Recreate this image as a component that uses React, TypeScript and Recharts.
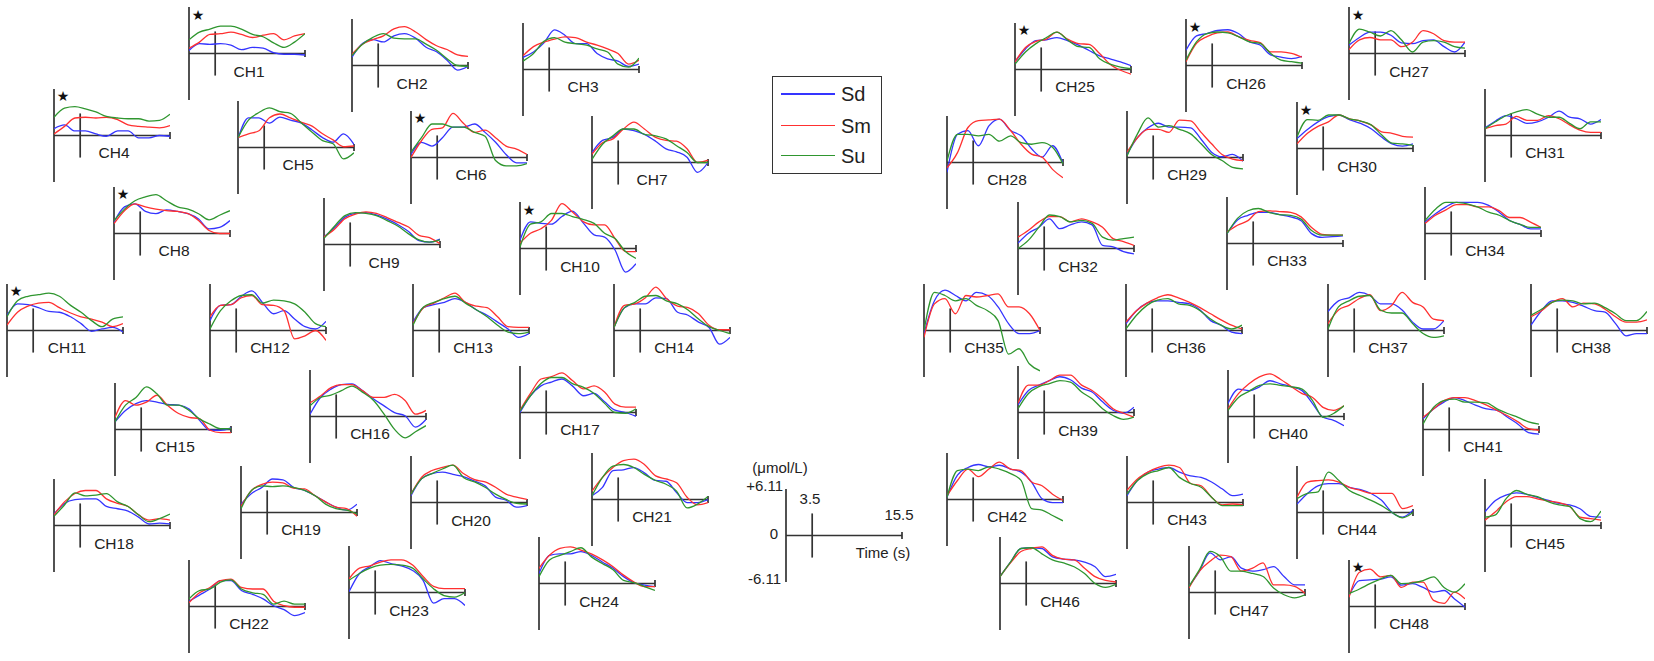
import { LineChart, Line, XAxis, YAxis, ReferenceLine } from "recharts";

// sample times (s), 0 .. 15.5
const TIME = [0, 1.4, 2.8, 4.2, 5.6, 7.0, 8.5, 9.9, 11.3, 12.7, 14.1, 15.5];
const Y_MAX = 6.11;
const ONSET = 3.5;
const T_END = 15.5;

const CHANNELS = [
  "CH1", "CH2", "CH3", "CH4", "CH5", "CH6", "CH7", "CH8", "CH9", "CH10", "CH11", "CH12",
  "CH13", "CH14", "CH15", "CH16", "CH17", "CH18", "CH19", "CH20", "CH21", "CH22", "CH23", "CH24",
  "CH25", "CH26", "CH27", "CH28", "CH29", "CH30", "CH31", "CH32", "CH33", "CH34", "CH35", "CH36",
  "CH37", "CH38", "CH39", "CH40", "CH41", "CH42", "CH43", "CH44", "CH45", "CH46", "CH47", "CH48",
];

const STARRED = ["CH1", "CH4", "CH6", "CH8", "CH10", "CH11", "CH25", "CH26", "CH27", "CH30", "CH48"];

// Sd (blue), μmol/L, one row per channel
const SD = [
  [0.4, 1.3, 1.2, 1.3, 1.1, 0.5, 0.8, 0.7, 0.1, -0.1, -0.1, -0.2],
  [1.1, 2.9, 3.4, 3.1, 3.9, 4.2, 3.6, 2.4, 1.8, 0.7, -0.6, -0.1],
  [1.6, 2.3, 3.5, 5.2, 4.5, 3.4, 3.4, 2.1, 1.4, 1.1, 0.4, 0.7],
  [0.9, 1.4, 0.6, 0.6, 0.2, -0.1, 0.6, 0.6, -0.3, -0.3, 0, -0.1],
  [1.2, 3.9, 3.9, 3.2, 4.0, 3.6, 3.2, 2.3, 1.3, 0.7, 1.8, 0.4],
  [0.4, 2.0, 1.5, 2.6, 4.0, 4.0, 4.4, 3.3, 2.0, 0.4, -0.7, -0.7],
  [1.3, 2.9, 3.3, 4.4, 4.2, 3.7, 2.8, 1.8, 1.4, 0.7, -1.3, 0],
  [1.5, 3.5, 3.9, 2.9, 2.6, 3.1, 2.9, 2.6, 1.9, 0.6, 0.8, 1.7],
  [1.0, 2.2, 3.6, 4.1, 4.2, 3.9, 3.3, 2.6, 1.7, 0.5, 0.3, 0.7],
  [1.1, 3.5, 3.3, 3.2, 4.2, 4.9, 3.3, 1.8, 1.5, -0.2, -3.1, -2.0],
  [2.0, 3.5, 3.4, 3.0, 2.5, 2.4, 1.8, 0.9, -0.1, 0.2, 0.4, -0.2],
  [1.3, 3.3, 3.4, 4.5, 5.2, 3.7, 2.2, 2.6, 1.5, 0.5, 0.2, 1.2],
  [1.1, 3.0, 3.4, 3.7, 4.2, 3.7, 2.7, 2.0, 1.1, 0.2, -0.9, -0.4],
  [0.4, 3.0, 3.5, 3.5, 4.3, 4.2, 2.4, 2.0, 1.1, 0.4, -1.8, -0.9],
  [1.0, 2.5, 3.4, 3.8, 3.6, 3.3, 3.2, 2.7, 1.2, -0.1, -0.1, 0.2],
  [0.3, 2.5, 3.6, 4.2, 4.3, 3.4, 2.3, 1.4, 0.5, 0.1, -1.4, -0.4],
  [0, 2.2, 3.5, 4.0, 4.4, 3.5, 2.2, 2.5, 1.4, 0.3, 0, -0.5],
  [1.5, 2.9, 3.4, 3.5, 3.5, 2.5, 2.2, 1.9, 1.1, 0.2, 0.3, 0.2],
  [1.1, 2.5, 3.3, 4.4, 4.3, 3.3, 2.9, 2.2, 1.4, 0.7, 0.3, 1.1],
  [0.9, 3.1, 3.8, 4.0, 3.7, 3.4, 2.8, 2.2, 0.7, 0.3, -0.6, -0.4],
  [0.5, 1.6, 3.8, 3.9, 4.2, 3.5, 2.5, 2.4, 0.9, -0.4, -0.4, 0],
  [0.7, 1.5, 2.3, 3.4, 3.4, 2.1, 1.6, 1.0, 0.1, -0.4, -1.2, -0.8],
  [0.1, 2.5, 3.4, 4.2, 3.8, 3.5, 2.9, 1.6, -1.4, -0.8, -0.8, -1.7],
  [1.3, 3.7, 3.9, 3.9, 4.2, 3.7, 2.8, 2.0, 0.9, 0.1, -0.2, -0.4],
  [1.0, 2.7, 3.8, 3.9, 4.2, 3.8, 3.2, 2.5, 1.8, 1.4, 1.0, 0.5],
  [2.0, 3.9, 4.2, 4.6, 4.7, 4.2, 3.1, 2.7, 1.4, 1.1, 0.9, 1.2],
  [1.1, 2.1, 2.8, 2.8, 2.4, 1.4, 1.3, 1.7, 1.8, 0.9, 0.2, 1.5],
  [-1.3, 3.7, 4.2, 2.2, 4.8, 5.7, 4.2, 3.5, 1.8, 0.7, 2.2, -0.1],
  [0.4, 2.6, 3.9, 4.5, 4.0, 4.0, 3.9, 2.4, 0.7, 0.1, 0.4, -0.5],
  [1.3, 2.5, 3.5, 4.2, 4.4, 3.8, 3.3, 2.6, 1.5, 0.6, 0.3, 0.6],
  [1.0, 1.9, 2.6, 2.2, 1.6, 1.8, 2.4, 3.2, 2.4, 2.2, 1.5, 2.1],
  [0.7, 2.0, 2.8, 3.9, 2.6, 3.1, 3.5, 3.1, 0.4, 0.2, -0.4, -0.7],
  [1.3, 3.1, 3.7, 4.1, 4.1, 3.8, 3.5, 3.0, 1.3, 0.8, 0.9, 1.0],
  [1.5, 2.6, 3.5, 4.1, 4.1, 4.1, 3.7, 2.8, 1.7, 1.2, 0.6, 0.6],
  [-0.4, 3.9, 5.3, 4.6, 3.9, 5.0, 4.6, 3.1, 0.9, -0.4, -0.4, 0],
  [0.9, 2.6, 3.6, 3.9, 3.9, 3.7, 3.5, 2.7, 1.3, 0.7, -0.2, -0.4],
  [2.5, 3.9, 4.3, 5.0, 4.6, 3.5, 3.5, 2.7, 1.1, 0.2, 0.2, 1.3],
  [0.7, 2.6, 3.9, 3.9, 3.7, 3.2, 2.6, 2.4, 0.9, -0.7, -0.4, -0.4],
  [1.0, 2.9, 3.6, 4.2, 4.7, 4.3, 3.2, 2.7, 1.4, 0.3, -0.1, 0.7],
  [1.7, 3.6, 3.4, 3.9, 4.7, 4.3, 3.9, 3.4, 1.7, -0.1, -0.5, -1.2],
  [1.4, 2.7, 3.6, 4.2, 3.8, 3.2, 2.7, 2.5, 1.6, 0.7, -0.4, -0.6],
  [0.3, 3.2, 4.2, 4.6, 4.3, 4.5, 4.0, 3.6, 2.3, 0.1, -0.4, -0.4],
  [0.9, 2.9, 4.0, 4.4, 4.6, 4.0, 3.5, 3.3, 2.7, 1.8, 0.9, 1.1],
  [1.1, 2.5, 3.5, 3.8, 3.8, 3.3, 3.0, 2.5, 1.6, 0, -0.6, 0.3],
  [1.8, 3.3, 4.0, 4.3, 4.1, 3.7, 3.3, 2.9, 2.7, 2.2, 1.2, 1.1],
  [0.9, 2.8, 4.6, 4.7, 4.6, 3.5, 3.2, 3.1, 2.8, 2.2, 0.9, 1.2],
  [0.8, 2.8, 5.2, 4.3, 4.7, 3.2, 2.8, 3.0, 3.4, 2.1, 1.0, 1.0],
  [1.4, 3.4, 3.5, 3.6, 3.9, 2.8, 3.0, 2.5, 1.9, 2.1, 1.0, -0.1],
];

// Sm (red)
const SM = [
  [0.7, 1.5, 2.5, 2.6, 2.8, 2.5, 2.1, 2.4, 2.6, 1.8, 2.3, 2.6],
  [1.5, 2.8, 3.4, 3.9, 4.8, 5.1, 4.4, 3.4, 2.6, 2.1, 1.4, 1.2],
  [1.8, 3.0, 3.6, 4.0, 4.3, 4.2, 3.6, 3.2, 2.7, 2.1, 0.7, 1.2],
  [0.2, 1.2, 2.3, 2.4, 2.3, 2.4, 2.1, 1.4, 1.2, 1.1, 1.0, 1.3],
  [1.3, 1.8, 2.2, 3.9, 4.4, 3.9, 3.3, 2.8, 1.8, 1.0, 0.1, 0.2],
  [0, 2.2, 3.7, 3.9, 5.8, 4.5, 3.3, 3.6, 2.6, 1.5, 1.1, 0.4],
  [1.1, 2.6, 3.1, 4.4, 5.3, 4.4, 3.3, 2.9, 2.8, 1.8, 0, 0.3],
  [1.3, 3.0, 3.9, 3.5, 3.2, 3.0, 2.9, 2.6, 1.7, 0.4, 0, 0],
  [1.0, 2.0, 3.4, 4.0, 4.3, 4.1, 3.5, 2.9, 2.3, 1.2, 0.9, 0.1],
  [0.7, 2.0, 2.6, 3.7, 5.9, 4.8, 3.5, 3.1, 3.1, 1.3, -0.4, -0.4],
  [0.7, 2.4, 3.2, 3.6, 3.7, 3.0, 2.3, 1.8, 1.5, 1.1, 0.5, 0.9],
  [1.8, 3.3, 3.4, 4.3, 4.6, 3.4, 3.3, 2.6, -1.1, -0.7, 0, -1.3],
  [0.9, 3.0, 3.6, 4.3, 4.9, 3.7, 3.2, 3.0, 1.8, 0.5, 0.4, 0.4],
  [0.4, 3.3, 3.5, 4.3, 5.7, 4.2, 3.2, 3.0, 2.2, 0.7, 0.1, 0.1],
  [1.6, 3.8, 3.2, 3.6, 4.5, 3.2, 2.1, 1.6, 1.4, -0.1, -0.4, -0.4],
  [1.8, 2.7, 3.8, 4.2, 4.2, 3.4, 2.5, 2.5, 2.9, 2.1, 0.3, 0.8],
  [0.3, 2.5, 4.4, 4.7, 5.2, 4.2, 3.1, 3.5, 2.7, 1.1, 0.7, 0.7],
  [1.4, 3.1, 4.2, 4.6, 4.6, 3.5, 2.9, 2.5, 1.4, 0.7, 0.9, 0.7],
  [0.8, 2.9, 3.7, 4.0, 3.9, 3.2, 3.1, 2.2, 1.4, 0.7, 0.5, -0.5],
  [1.1, 3.3, 4.2, 4.6, 4.9, 3.8, 3.0, 2.7, 2.0, 1.1, 0.7, 0.4],
  [1.1, 2.9, 4.2, 5.1, 5.3, 4.6, 3.1, 2.7, 2.2, 0.3, -0.7, -0.4],
  [0.5, 1.8, 2.5, 3.4, 3.6, 2.5, 2.3, 2.3, 0.7, 0.1, -0.1, -0.1],
  [1.8, 3.2, 3.5, 4.0, 4.3, 4.3, 3.6, 2.1, 0.8, 0.5, 0.5, 0.5],
  [2.0, 3.7, 4.6, 4.8, 4.4, 3.9, 3.1, 2.2, 1.1, 0.2, -0.4, -0.4],
  [1.0, 2.9, 3.7, 4.0, 4.9, 4.0, 3.4, 3.3, 2.1, 0.7, -0.1, -0.6],
  [0.5, 2.9, 3.8, 4.3, 4.4, 3.8, 3.3, 3.0, 1.8, 1.8, 1.6, 1.1],
  [0.5, 1.8, 2.1, 1.8, 1.8, 0.9, 1.5, 3.0, 2.6, 1.7, 1.5, 1.5],
  [-0.7, 1.3, 4.6, 5.5, 5.6, 5.7, 4.2, 2.4, 1.1, 0.7, -0.9, -2.0],
  [0.7, 2.6, 3.7, 3.7, 3.3, 4.9, 4.8, 3.3, 1.8, 0.4, -0.2, -0.4],
  [0.6, 2.0, 2.9, 3.5, 4.4, 3.9, 3.6, 3.1, 2.2, 2.0, 1.6, 1.5],
  [0.9, 1.3, 1.5, 2.5, 2.0, 2.0, 2.6, 2.2, 1.4, 0.7, 0.4, 0.4],
  [1.5, 2.4, 3.5, 4.2, 4.2, 3.5, 3.9, 3.5, 2.8, 1.3, 0.9, 0.4],
  [1.5, 2.4, 3.0, 4.2, 4.3, 4.2, 4.1, 3.5, 2.1, 1.2, 1.1, 1.1],
  [1.3, 2.4, 3.1, 3.8, 3.8, 3.5, 3.5, 3.0, 2.1, 2.1, 1.5, 0.8],
  [-0.9, 3.5, 4.2, 2.2, 4.6, 4.4, 4.6, 4.8, 3.1, 3.1, 2.2, 0],
  [1.1, 2.6, 3.6, 4.3, 4.7, 4.3, 3.7, 3.0, 2.2, 1.4, 0.7, 0.2],
  [0.9, 2.7, 3.3, 4.2, 4.7, 2.6, 3.3, 5.0, 3.7, 3.1, 1.5, 1.3],
  [1.8, 2.6, 3.7, 4.2, 3.1, 3.6, 3.5, 2.8, 1.8, 1.1, 1.1, 1.4],
  [1.2, 3.6, 3.6, 4.2, 4.9, 4.9, 3.6, 2.9, 1.8, 0.5, -0.1, -0.6],
  [1.0, 3.0, 4.3, 5.2, 5.6, 4.9, 3.9, 3.0, 2.5, 1.2, 0.8, 1.4],
  [1.6, 2.7, 3.8, 4.2, 4.2, 3.8, 3.2, 2.5, 1.8, 1.0, 0.1, -0.1],
  [0.5, 2.5, 4.0, 3.0, 4.0, 4.9, 4.0, 3.8, 2.3, 1.8, 0.7, -0.1],
  [1.6, 3.1, 4.0, 4.6, 4.9, 4.6, 2.5, 2.2, 0.7, -0.3, -0.2, -0.3],
  [2.0, 4.0, 4.2, 4.3, 4.0, 3.3, 2.9, 2.5, 2.5, 2.5, 0.5, 0.9],
  [0.7, 1.8, 3.1, 3.8, 3.8, 3.5, 3.2, 3.0, 2.5, 1.1, 0.9, 0.7],
  [0.9, 2.7, 4.2, 4.6, 4.8, 3.7, 3.2, 3.1, 2.0, 0.9, 0.4, 0.2],
  [0.6, 2.8, 4.1, 4.9, 4.7, 2.8, 3.2, 3.9, 1.0, 1.0, 0.8, -0.1],
  [1.2, 4.5, 4.9, 3.9, 4.1, 2.5, 3.2, 3.2, 0.8, 0.4, 1.9, 1.0],
];

// Su (green)
const SU = [
  [1.8, 2.8, 3.2, 3.6, 3.6, 3.2, 2.5, 2.2, 1.4, 0.8, 1.5, 2.6],
  [1.3, 2.8, 3.7, 4.2, 3.6, 3.5, 3.5, 2.8, 2.0, 0.9, 0, -0.1],
  [1.1, 2.1, 3.7, 4.2, 3.6, 3.4, 3.2, 2.7, 2.3, 0.7, 0.3, 1.5],
  [2.4, 3.6, 3.8, 3.5, 3.1, 2.5, 2.3, 2.2, 2.2, 1.9, 2.0, 2.8],
  [1.3, 3.6, 4.6, 5.2, 4.7, 4.5, 3.2, 2.0, 0.9, 0.5, -1.5, -0.7],
  [0.7, 2.6, 4.4, 4.4, 4.0, 4.0, 3.3, 2.8, -0.4, -1.1, -1.1, -0.8],
  [0.4, 2.4, 3.5, 4.4, 4.4, 3.7, 3.5, 3.1, 2.2, 1.3, 0, 0],
  [1.7, 3.2, 4.3, 4.8, 5.1, 4.3, 3.5, 3.2, 2.6, 1.8, 2.4, 3.0],
  [0.8, 2.4, 3.8, 4.2, 4.1, 3.8, 3.1, 2.4, 1.4, 0.6, 0.3, 0.6],
  [0.2, 3.2, 3.5, 4.6, 4.6, 4.2, 3.8, 3.3, 2.0, 1.3, -0.4, -1.3],
  [1.8, 3.9, 4.5, 4.7, 4.9, 4.5, 3.3, 2.4, 1.3, 0.5, 1.5, 1.8],
  [0.2, 2.6, 3.9, 4.6, 4.7, 3.6, 4.0, 3.9, 3.5, 2.4, 0.9, 0.5],
  [0.7, 3.1, 3.7, 4.2, 4.5, 3.6, 2.7, 1.8, 0.7, -0.2, -0.4, -0.2],
  [0.4, 3.0, 3.7, 4.5, 4.6, 3.9, 3.5, 2.7, 1.5, 0.5, 0, -0.4],
  [1.0, 3.2, 4.2, 5.6, 4.7, 3.2, 3.2, 2.5, 1.4, 0.7, 0.1, 0.1],
  [1.4, 2.5, 2.8, 3.4, 4.0, 3.2, 2.1, 0.3, -1.7, -2.8, -2.0, -1.2],
  [0.2, 2.2, 3.8, 4.6, 4.6, 3.8, 3.3, 2.5, 1.2, 0, -0.1, 0.5],
  [1.2, 2.7, 4.3, 3.9, 4.0, 4.2, 3.1, 2.5, 1.4, 0.5, 0.9, 1.5],
  [0.5, 2.9, 3.5, 3.4, 3.5, 3.3, 2.9, 2.2, 1.1, 0.5, 0.3, -0.2],
  [1.1, 3.1, 3.8, 4.4, 4.9, 3.3, 2.7, 2.0, 1.1, 0.4, -0.1, -0.2],
  [0.5, 2.9, 4.4, 4.6, 4.2, 3.3, 2.5, 2.0, 1.1, -1.1, -0.6, 0.4],
  [1.0, 2.1, 2.3, 3.2, 3.5, 2.3, 1.8, 1.6, 0.3, 0.7, 0.3, 0.3],
  [1.6, 2.5, 3.2, 3.6, 3.7, 3.6, 3.2, 1.8, 0.5, -0.4, -0.6, 0],
  [0.9, 3.1, 3.7, 4.2, 4.7, 3.5, 2.6, 1.8, 0.4, 0.1, -0.4, -0.9],
  [0.7, 2.3, 3.4, 4.2, 4.9, 3.9, 3.0, 2.9, 1.4, 0.7, 0.3, 0.1],
  [0.7, 3.1, 4.2, 4.4, 4.3, 3.8, 3.1, 2.9, 1.6, 0.7, 0.5, 0.3],
  [1.3, 3.2, 2.8, 2.3, 3.0, 1.8, 0.2, 1.5, 1.7, 1.5, 0.9, 0.7],
  [0.2, 3.7, 3.7, 3.5, 3.7, 2.8, 3.5, 2.6, 2.4, 2.6, 2.0, -0.2],
  [0.2, 3.1, 5.2, 4.0, 4.2, 3.7, 3.1, 1.8, 0.4, -0.4, -1.3, -1.5],
  [1.5, 3.8, 3.7, 4.4, 4.4, 3.9, 3.6, 3.1, 1.8, 0.7, 0.6, 0.4],
  [0.9, 1.8, 2.6, 3.1, 3.4, 2.8, 2.4, 2.4, 1.6, 0.9, 1.8, 1.8],
  [0, 1.1, 2.8, 4.4, 4.2, 3.5, 3.7, 3.3, 1.5, 1.1, 1.3, 1.5],
  [1.3, 3.3, 4.3, 4.6, 4.1, 3.8, 3.7, 3.2, 1.7, 1.1, 1.1, 1.1],
  [1.7, 3.2, 4.1, 4.1, 3.9, 3.5, 2.8, 2.4, 1.7, 1.2, 0.8, 0.8],
  [0, 5.0, 4.6, 3.9, 4.2, 3.3, 2.6, 1.3, -3.1, -2.4, -4.4, -5.3],
  [0.2, 2.0, 3.3, 4.0, 4.2, 3.5, 3.3, 2.6, 1.5, 0.7, 0.2, 0.7],
  [0.2, 3.1, 3.9, 4.5, 4.6, 2.7, 2.3, 2.3, 0.9, -0.4, -0.9, -0.7],
  [2.0, 2.8, 3.7, 4.0, 3.9, 3.5, 3.6, 3.0, 2.2, 1.3, 1.3, 2.5],
  [0.5, 2.5, 3.4, 3.8, 4.2, 4.0, 2.7, 1.8, 0.5, -0.4, -0.9, -0.6],
  [0.8, 2.5, 3.3, 4.1, 4.3, 4.1, 3.9, 3.6, 2.1, -0.1, 0.4, 1.4],
  [0.7, 2.9, 3.8, 4.0, 3.6, 3.6, 3.5, 2.7, 2.1, 1.6, 1.0, 0.7],
  [0.3, 3.8, 4.0, 3.8, 4.3, 4.0, 3.4, 2.5, -1.2, -1.4, -2.1, -2.8],
  [1.1, 2.9, 3.8, 4.2, 4.6, 3.3, 2.5, 2.0, 0.7, -0.4, -0.4, -0.4],
  [1.8, 2.5, 2.7, 5.3, 4.2, 2.9, 2.2, 1.6, 0.9, 0, -0.7, 0],
  [1.1, 1.4, 3.5, 4.6, 4.1, 3.8, 3.1, 2.7, 2.5, 0.9, 0.5, 1.9],
  [0.9, 2.8, 4.6, 4.7, 3.9, 3.1, 2.7, 2.2, 1.3, 0, -0.5, -0.1],
  [0.8, 3.0, 5.4, 4.7, 2.8, 2.8, 2.5, 2.1, 0.6, -0.3, -0.7, -0.3],
  [1.7, 2.3, 3.0, 3.6, 4.1, 3.0, 3.1, 3.4, 3.9, 2.5, 1.9, 3.0],
];

// layout: [x of the y-axis, y of the zero line] per channel, in page px
const PANEL_POS = [
  [189, 53.5], [352, 65.5], [523, 69], [54, 135], [238, 147], [411, 157], [592, 162], [114, 233],
  [324, 244.5], [520, 248.5], [7, 330], [210, 330], [413, 330], [614, 330], [115, 429], [310, 416],
  [520, 412], [54, 525.5], [241, 512], [411, 502.5], [592, 499], [189, 606], [349, 592.5], [539, 583.5],
  [1015, 69], [1186, 65.5], [1349, 53.5], [947, 162], [1127, 157], [1297, 148.5], [1485, 135], [1018, 248.5],
  [1227, 243], [1425, 233], [924, 330], [1126, 330], [1328, 330], [1531, 330], [1018, 412.5], [1228, 416],
  [1423, 429], [947, 499], [1127, 502], [1297, 512], [1485, 525.5], [1000, 583.5], [1189, 592.5], [1349, 606],
];

const PW = 116;
const PH = 93;
const PAD = 3;
const AXIS = "#333333";
const BLUE = "#3535ff";
const RED = "#ff3030";
const GREEN = "#2f962f";
const FONT = "'Liberation Sans', Arial, sans-serif";

type PanelProps = {
  x: number;
  y: number;
  label?: string;
  sd?: number[];
  sm?: number[];
  su?: number[];
  star?: boolean;
};

function Panel({ x, y, label, sd, sm, su, star }: PanelProps) {
  const data = TIME.map((t, i) => ({
    t,
    Sd: sd ? sd[i] : null,
    Sm: sm ? sm[i] : null,
    Su: su ? su[i] : null,
  }));
  const w = PW + 2 * PAD;
  const h = PH + 2 * PAD;
  return (
    <div style={{ position: "absolute", left: x - PAD, top: y - PH / 2 - PAD, width: w, height: h }}>
      <LineChart width={w} height={h} data={data} margin={{ top: PAD, right: PAD, bottom: PAD, left: PAD }}>
        <XAxis type="number" dataKey="t" domain={[0, T_END]} hide allowDataOverflow />
        <YAxis type="number" domain={[-Y_MAX, Y_MAX]} hide allowDataOverflow />
        <ReferenceLine x={0} stroke={AXIS} strokeWidth={1.7} />
        <ReferenceLine y={0} stroke={AXIS} strokeWidth={1.7} />
        <ReferenceLine segment={[{ x: ONSET, y: -2.9 }, { x: ONSET, y: 2.9 }]} stroke={AXIS} strokeWidth={1.7} />
        <ReferenceLine segment={[{ x: T_END, y: -0.45 }, { x: T_END, y: 0.45 }]} stroke={AXIS} strokeWidth={1.7} />
        {sd && <Line dataKey="Sd" type="monotone" stroke={BLUE} strokeWidth={1.3} dot={false} isAnimationActive={false} />}
        {sm && <Line dataKey="Sm" type="monotone" stroke={RED} strokeWidth={1.3} dot={false} isAnimationActive={false} />}
        {su && <Line dataKey="Su" type="monotone" stroke={GREEN} strokeWidth={1.3} dot={false} isAnimationActive={false} />}
      </LineChart>
      {label && (
        <span
          style={{
            position: "absolute",
            left: PAD + 60,
            top: PAD + PH / 2 + 18,
            transform: "translate(-50%, -50%)",
            fontFamily: FONT,
            fontSize: 15.5,
            color: "#222",
            whiteSpace: "nowrap",
            lineHeight: 1,
          }}
        >
          {label}
        </span>
      )}
      {star && (
        <span
          style={{
            position: "absolute",
            left: PAD + 9,
            top: PAD + PH / 2 - 39,
            transform: "translate(-50%, -50%)",
            fontFamily: "'DejaVu Sans', sans-serif",
            fontSize: 14,
            color: "#111",
            lineHeight: 1,
          }}
        >
          ★
        </span>
      )}
    </div>
  );
}

function Txt({ x, y, children, align = "center", size = 15 }: any) {
  const tx = align === "right" ? "-100%" : "-50%";
  return (
    <span
      style={{
        position: "absolute",
        left: x,
        top: y,
        transform: `translate(${tx}, -50%)`,
        fontFamily: FONT,
        fontSize: size,
        color: "#222",
        whiteSpace: "nowrap",
        lineHeight: 1,
      }}
    >
      {children}
    </span>
  );
}

const LEGEND = [
  { name: "Sd", color: BLUE, y: 94 },
  { name: "Sm", color: RED, y: 125.5 },
  { name: "Su", color: GREEN, y: 155.5 },
];

export default function App() {
  return (
    <div
      style={{
        position: "absolute",
        left: 0,
        top: 0,
        width: 1654,
        height: 661,
        background: "#fff",
        overflow: "hidden",
      }}
    >
      {CHANNELS.map((ch, i) => (
        <Panel
          key={ch}
          x={PANEL_POS[i][0]}
          y={PANEL_POS[i][1]}
          label={ch}
          sd={SD[i]}
          sm={SM[i]}
          su={SU[i]}
          star={STARRED.includes(ch)}
        />
      ))}

      {/* scale reference */}
      <Panel x={786} y={535} />
      <Txt x={780} y={467}>(μmol/L)</Txt>
      <Txt x={783} y={485} align="right">+6.11</Txt>
      <Txt x={778} y={533} align="right">0</Txt>
      <Txt x={781} y={578} align="right">-6.11</Txt>
      <Txt x={810} y={498}>3.5</Txt>
      <Txt x={899} y={514}>15.5</Txt>
      <Txt x={883} y={552}>Time (s)</Txt>

      {/* legend */}
      <div
        style={{
          position: "absolute",
          left: 772,
          top: 76,
          width: 110,
          height: 98,
          boxSizing: "border-box",
          border: "1.5px solid #333",
          background: "#fff",
        }}
      />
      {LEGEND.map((l) => (
        <div key={l.name}>
          <div style={{ position: "absolute", left: 781, top: l.y - 0.6, width: 54, height: 1.2, background: l.color }} />
          <span
            style={{
              position: "absolute",
              left: 841,
              top: l.y,
              transform: "translateY(-50%)",
              fontFamily: FONT,
              fontSize: 20,
              color: "#222",
              lineHeight: 1,
            }}
          >
            {l.name}
          </span>
        </div>
      ))}
    </div>
  );
}
